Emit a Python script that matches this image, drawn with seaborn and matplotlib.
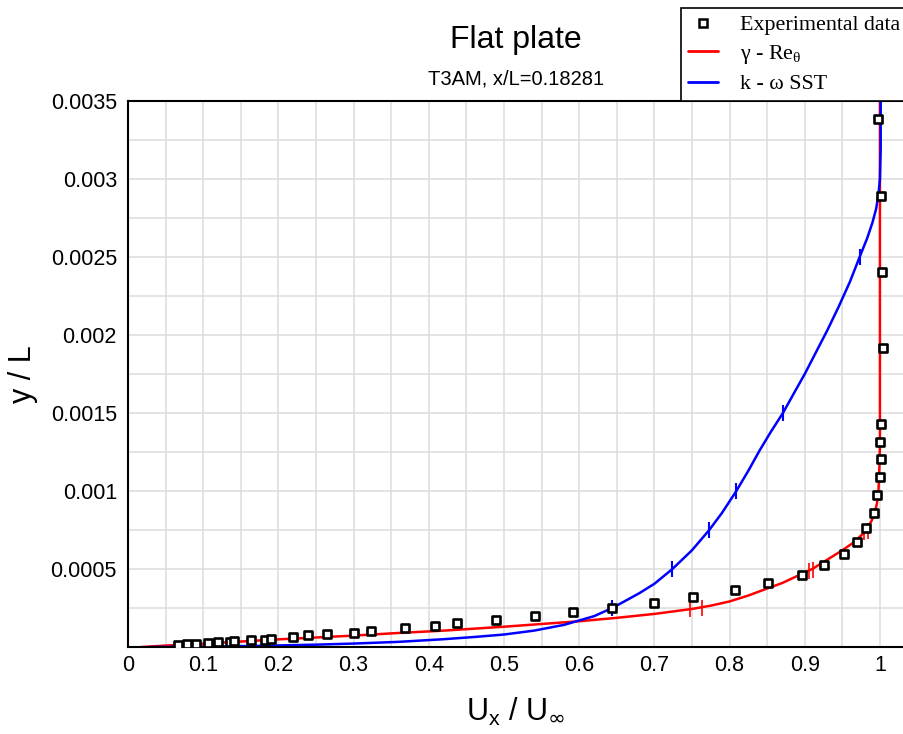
"""Flat plate T3AM velocity profile: experiment vs. two turbulence models."""
import matplotlib
matplotlib.use("Agg")
import matplotlib.pyplot as plt
from matplotlib.lines import Line2D
import seaborn as sns

# Experimental data (U_x/U_inf, y/L)
exp_u = [0.067, 0.079, 0.091, 0.107, 0.120, 0.136, 0.141, 0.163, 0.182, 0.190,
         0.219, 0.239, 0.265, 0.301, 0.323, 0.368, 0.408, 0.438, 0.489, 0.541,
         0.592, 0.644, 0.699, 0.752, 0.807, 0.851, 0.896, 0.926, 0.952, 0.969,
         0.981, 0.992, 0.996, 1.000, 1.001, 1.000, 1.002, 1.004, 1.003, 1.002, 0.998]
exp_y = [1.5e-5, 1.9e-5, 2.1e-5, 2.6e-5, 3.0e-5, 3.4e-5, 3.7e-5, 4.3e-5, 4.7e-5, 5.1e-5,
         6.2e-5, 7.5e-5, 8.1e-5, 9.2e-5, 1.03e-4, 1.19e-4, 1.35e-4, 1.54e-4, 1.73e-4, 1.97e-4,
         2.22e-4, 2.50e-4, 2.84e-4, 3.21e-4, 3.63e-4, 4.10e-4, 4.63e-4, 5.26e-4, 5.96e-4, 6.71e-4,
         7.61e-4, 8.61e-4, 9.74e-4, 1.09e-3, 1.203e-3, 1.316e-3, 1.43e-3, 1.919e-3, 2.406e-3,
         2.893e-3, 3.383e-3]

# gamma - Re_theta
red_u = [0.018, 0.05, 0.10, 0.15, 0.20, 0.25, 0.30, 0.36, 0.42, 0.50, 0.60, 0.65,
         0.70, 0.75, 0.775, 0.80, 0.825, 0.85, 0.87, 0.89, 0.91, 0.93, 0.95, 0.965,
         0.975, 0.983, 0.989, 0.993, 0.996, 0.998, 0.999, 1.0, 1.0]
red_y = [0.0, 9e-6, 2.1e-5, 3.5e-5, 4.9e-5, 6.1e-5, 7.3e-5, 9.0e-5, 1.05e-4, 1.30e-4,
         1.65e-4, 1.87e-4, 2.12e-4, 2.44e-4, 2.65e-4, 2.92e-4, 3.3e-4, 3.75e-4, 4.1e-4,
         4.55e-4, 5.0e-4, 5.6e-4, 6.2e-4, 6.7e-4, 7.15e-4, 7.6e-4, 8.1e-4, 8.6e-4,
         9.2e-4, 1.0e-3, 1.1e-3, 1.3e-3, 3.6e-3]
red_tick_u = [0.747, 0.763, 0.906, 0.911, 0.979, 0.984]
red_tick_y = [2.42e-4, 2.48e-4, 4.9e-4, 4.95e-4, 7.4e-4, 7.45e-4]

# k - omega SST
blue_u = [0.03, 0.10, 0.18, 0.25, 0.30, 0.36, 0.42, 0.46, 0.50, 0.54, 0.58, 0.62,
          0.644, 0.66, 0.68, 0.70, 0.724, 0.75, 0.773, 0.79, 0.809, 0.825, 0.84, 0.855,
          0.871, 0.886, 0.90, 0.915, 0.93, 0.945, 0.96, 0.973, 0.983, 0.99, 0.995,
          0.998, 1.0, 1.001, 1.001]
blue_y = [0.0, 2e-6, 8e-6, 1.5e-5, 2.2e-5, 3.3e-5, 5.0e-5, 6.4e-5, 8.0e-5, 1.05e-4,
          1.42e-4, 1.98e-4, 2.5e-4, 2.92e-4, 3.45e-4, 4.05e-4, 5.0e-4, 6.2e-4, 7.5e-4,
          8.6e-4, 1.0e-3, 1.13e-3, 1.26e-3, 1.38e-3, 1.5e-3, 1.63e-3, 1.75e-3, 1.89e-3,
          2.03e-3, 2.18e-3, 2.34e-3, 2.5e-3, 2.62e-3, 2.72e-3, 2.81e-3, 2.9e-3, 3.0e-3,
          3.2e-3, 3.6e-3]
blue_tick_u = [0.644, 0.724, 0.773, 0.809, 0.871, 0.973]
blue_tick_y = [2.5e-4, 5.0e-4, 7.5e-4, 1.0e-3, 1.5e-3, 2.5e-3]

x_ticks = [0, 0.1, 0.2, 0.3, 0.4, 0.5, 0.6, 0.7, 0.8, 0.9, 1.0]
x_labels = ["0", "0.1", "0.2", "0.3", "0.4", "0.5", "0.6", "0.7", "0.8", "0.9", "1"]
y_ticks = [0.0005, 0.001, 0.0015, 0.002, 0.0025, 0.003, 0.0035]
y_labels = ["0.0005", "0.001", "0.0015", "0.002", "0.0025", "0.003", "0.0035"]

sns.set_style("whitegrid")
plt.rcParams["font.family"] = ["Liberation Sans", "DejaVu Sans"]
plt.rcParams.update({"text.color": "black", "axes.labelcolor": "black",
                     "xtick.color": "black", "ytick.color": "black"})

fig = plt.figure(figsize=(9.04, 7.34), dpi=100)
ax = fig.add_axes([128 / 904, 87 / 734, 776 / 904, 546 / 734])

sns.lineplot(x=red_u, y=red_y, sort=False, estimator=None, color="red", lw=1.8, ax=ax)
sns.lineplot(x=blue_u, y=blue_y, sort=False, estimator=None, color="blue", lw=1.8, ax=ax)
ax.plot(red_tick_u, red_tick_y, ls="none", marker="|", ms=11, mew=1.2, color="red")
ax.plot(blue_tick_u, blue_tick_y, ls="none", marker="|", ms=11, mew=1.5, color="blue")
sns.scatterplot(x=exp_u, y=exp_y, marker="s", s=32, color="white",
                edgecolor="black", linewidth=1.9, zorder=5, ax=ax)

ax.set_xlim(0, 1.032)
ax.set_ylim(0, 0.0035)
ax.set_xticks(x_ticks)
ax.set_xticklabels(x_labels)
ax.set_yticks(y_ticks)
ax.set_yticklabels(y_labels)
ax.set_xticks([0.05 + 0.1 * i for i in range(10)], minor=True)
ax.set_yticks([0.00025 + 0.0005 * i for i in range(7)], minor=True)
ax.grid(True, which="both", color="#dcdcdc", lw=1.1)
ax.tick_params(which="both", length=0, labelsize=15.5)
ax.tick_params(axis="y", pad=8)
ax.tick_params(axis="x", pad=6)

for side in ["left", "bottom", "top"]:
    ax.spines[side].set_color("black")
    ax.spines[side].set_linewidth(1.5)
ax.spines["right"].set_visible(False)

ax.set_xlabel(r"U$_\mathregular{x}$ / U$_\infty$", fontsize=22, labelpad=14)
ax.set_ylabel("y / L", fontsize=22, labelpad=9)

fig.text(516 / 904, 1 - 40 / 734, "Flat plate", ha="center", va="center", fontsize=23)
fig.text(516 / 904, 1 - 79 / 734, "T3AM, x/L=0.18281", ha="center", va="center", fontsize=14.5)

handles = [
    Line2D([], [], ls="none", marker="s", ms=5.5, mfc="white", mec="black", mew=1.8),
    Line2D([], [], color="red", lw=2),
    Line2D([], [], color="blue", lw=2),
]
labels = ["Experimental data", r"γ - Re$_\mathregular{θ}$", "k - ω SST"]
leg = fig.legend(handles, labels, loc="lower left",
                 bbox_to_anchor=(681 / 904, 1 - 101 / 734),
                 prop={"family": "Liberation Serif", "size": 15.8},
                 frameon=True, fancybox=False, framealpha=1, borderpad=0.3,
                 labelspacing=0.36, handlelength=1.4, handletextpad=1.0,
                 borderaxespad=0)
leg.get_frame().set_edgecolor("black")
leg.get_frame().set_linewidth(1.2)

fig.savefig("out.png", dpi=100)
